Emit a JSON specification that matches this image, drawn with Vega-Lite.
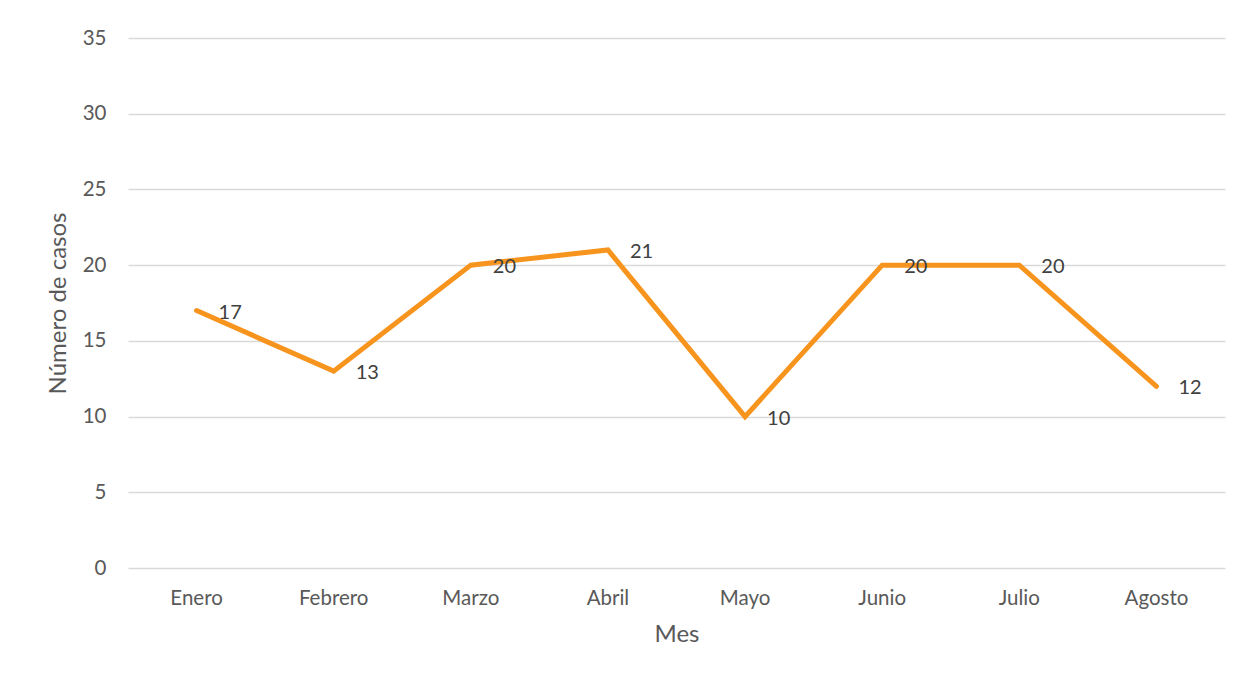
{
  "$schema": "https://vega.github.io/schema/vega-lite/v6.json",
  "width": 1097,
  "height": 530,
  "autosize": {"type": "none"},
  "padding": {"left": 128, "top": 38, "right": 28, "bottom": 114},
  "background": "white",
  "config": {
    "view": {"stroke": null},
    "font": "Lato",
    "axis": {
      "labelFont": "Lato",
      "titleFont": "Lato",
      "labelColor": "#595959",
      "titleColor": "#595959",
      "labelFontSize": 20.5,
      "titleFontSize": 24,
      "titleFontWeight": "normal",
      "domain": false,
      "ticks": false,
      "gridColor": "#d9d9d9",
      "gridWidth": 1.3
    }
  },
  "data": {
    "values": [
      {"Mes": "Enero", "Casos": 17},
      {"Mes": "Febrero", "Casos": 13},
      {"Mes": "Marzo", "Casos": 20},
      {"Mes": "Abril", "Casos": 21},
      {"Mes": "Mayo", "Casos": 10},
      {"Mes": "Junio", "Casos": 20},
      {"Mes": "Julio", "Casos": 20},
      {"Mes": "Agosto", "Casos": 12}
    ]
  },
  "encoding": {
    "x": {
      "field": "Mes",
      "type": "nominal",
      "sort": null,
      "scale": {"type": "band", "paddingInner": 0, "paddingOuter": 0},
      "axis": {"labelAngle": 0, "grid": false, "labelPadding": 20, "title": "Mes", "titlePadding": 14}
    },
    "y": {
      "field": "Casos",
      "type": "quantitative",
      "scale": {"domain": [0, 35], "nice": false},
      "axis": {"values": [0, 5, 10, 15, 20, 25, 30, 35], "labelPadding": 22, "title": "Número de casos", "titlePadding": 12}
    }
  },
  "layer": [
    {
      "mark": {"type": "line", "color": "#F7941D", "strokeWidth": 5, "strokeJoin": "miter", "strokeCap": "round"}
    },
    {
      "mark": {"type": "text", "align": "left", "baseline": "middle", "dx": 22, "dy": 2, "fontSize": 20, "color": "#404040", "font": "Lato"},
      "encoding": {"text": {"field": "Casos", "type": "quantitative"}}
    }
  ]
}
